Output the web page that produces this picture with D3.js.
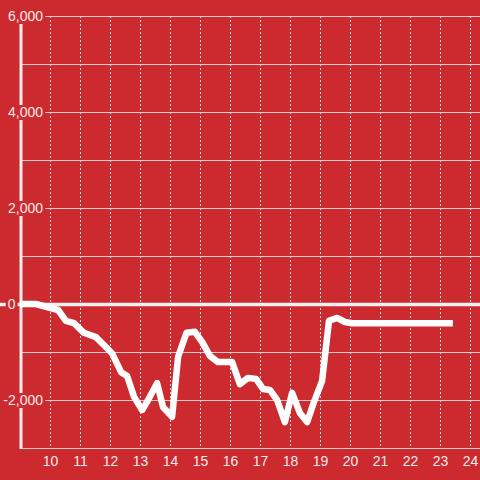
<!DOCTYPE html>
<html><head><meta charset="utf-8">
<script src="https://cdn.jsdelivr.net/npm/d3@7"></script>
<style>html,body{margin:0;padding:0;background:#cc2a2f;}svg{display:block;}</style>
</head><body>
<script>
// Data (x = hour, y = value)
const xs = [9.0, 9.53, 10.27, 10.53, 10.8, 11.13, 11.53, 11.83, 12.07, 12.37, 12.57, 12.8, 13.07, 13.27, 13.57, 13.77, 14.07, 14.27, 14.55, 14.83, 15.07, 15.33, 15.6, 16.07, 16.33, 16.6, 16.87, 17.1, 17.33, 17.57, 17.83, 18.07, 18.33, 18.57, 18.8, 19.07, 19.3, 19.57, 19.83, 20.07, 23.43];
const ys = [0, 0, -125, -350, -400, -600, -690, -875, -1030, -1420, -1500, -1930, -2210, -2000, -1650, -2150, -2350, -1100, -600, -580, -790, -1080, -1210, -1210, -1670, -1540, -1560, -1770, -1790, -2000, -2460, -1850, -2270, -2460, -2040, -1600, -350, -290, -375, -400, -400];
const xTicks = [10, 11, 12, 13, 14, 15, 16, 17, 18, 19, 20, 21, 22, 23, 24];
const yGrid = [-2000, -1000, 0, 1000, 2000, 3000, 4000, 5000, 6000];
const yLabels = [6000, 4000, 2000, 0, -2000];

const W = 480, H = 480;
const svg = d3.select("body").append("svg").attr("width", W).attr("height", H);
svg.append("rect").attr("width", W).attr("height", H).attr("fill", "#cc2a2f");

const x = d3.scaleLinear().domain([9, 9 + 460 / 30]).range([20, 480]);
const y = d3.scaleLinear().domain([-3000, 6000]).range([448, 16]);

// vertical dashed grid
svg.append("g").selectAll("line").data(xTicks).join("line")
  .attr("x1", d => Math.round(x(d)) + 0.5).attr("x2", d => Math.round(x(d)) + 0.5)
  .attr("y1", y(6000)).attr("y2", 446)
  .attr("stroke", "#e4dcdc").attr("stroke-width", 1).attr("stroke-dasharray", "2,2");

// horizontal grid
svg.append("g").selectAll("line").data(yGrid.filter(d => d !== 0)).join("line")
  .attr("x1", 20).attr("x2", W)
  .attr("y1", d => Math.round(y(d)) + 0.5).attr("y2", d => Math.round(y(d)) + 0.5)
  .attr("stroke", "#d4cccc").attr("stroke-width", 1);

// bottom axis line
svg.append("line").attr("x1", 20).attr("x2", W).attr("y1", 448.5).attr("y2", 448.5)
  .attr("stroke", "#d4cccc").attr("stroke-width", 1);

// y axis line
svg.append("line").attr("x1", 21).attr("x2", 21).attr("y1", 16).attr("y2", 449)
  .attr("stroke", "#f2eeee").attr("stroke-width", 3);

// zero line
svg.append("line").attr("x1", 0).attr("x2", W).attr("y1", y(0) + 0.5).attr("y2", y(0) + 0.5)
  .attr("stroke", "#f4f0f0").attr("stroke-width", 3.5);

// data line
const pts = xs.map((d, i) => [d, ys[i]]);
svg.append("path").datum(pts)
  .attr("d", d3.line().x(d => x(d[0])).y(d => y(d[1])))
  .attr("fill", "none").attr("stroke", "#ffffff").attr("stroke-width", 6.5)
  .attr("stroke-linejoin", "round").attr("stroke-linecap", "butt");

// y labels with background
const fmt = d3.format(",");
const yl = svg.append("g").selectAll("g").data(yLabels).join("g");
yl.each(function(d) {
  const g = d3.select(this);
  const t = g.append("text").attr("x", d === 0 ? 15.5 : 43).attr("y", y(d)).attr("dy", "0.35em")
    .attr("text-anchor", "end").attr("font-family", "Liberation Sans, Arial, sans-serif")
    .attr("font-size", 14).attr("fill", "#f4eaea").text(fmt(d).replace("−", "-"));
  const bb = t.node().getBBox();
  g.insert("rect", "text").attr("x", bb.x - 2).attr("y", y(d) - 7).attr("width", bb.width + 4).attr("height", 15)
    .attr("fill", "#cc2a2f");
});

// x labels
svg.append("g").selectAll("text").data(xTicks).join("text")
  .attr("x", d => x(d) + 0.5).attr("y", 466).attr("text-anchor", "middle")
  .attr("font-family", "Liberation Sans, Arial, sans-serif").attr("font-size", 14)
  .attr("fill", "#f4eaea").text(d => d);
</script>
</body></html>
